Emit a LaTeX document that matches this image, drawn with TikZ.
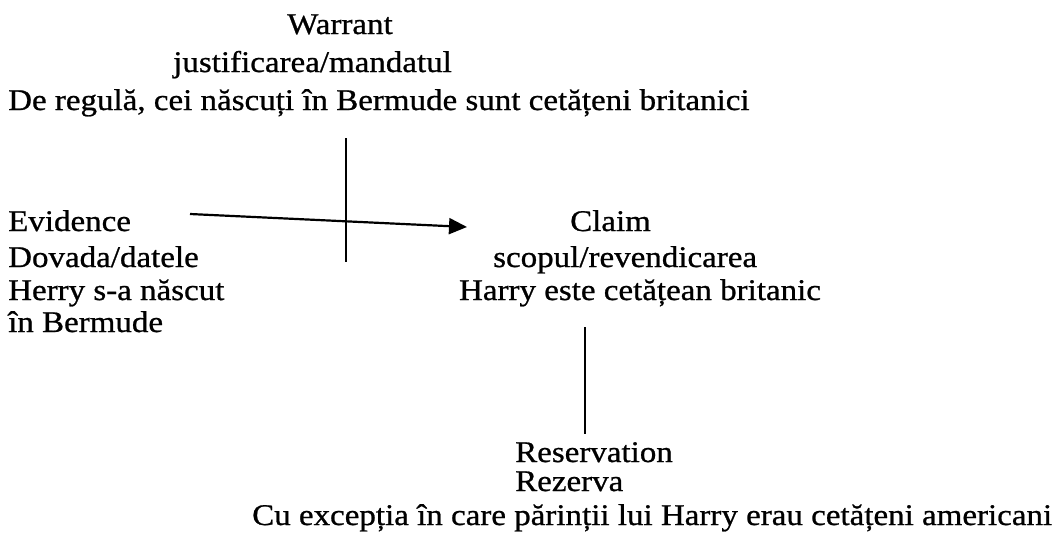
\documentclass[tikz,border=0pt]{standalone}
\usepackage{fontspec}
\setmainfont{Liberation Serif}
\newfontfamily\reff[FakeStretch=1.1,FakeBold=0.8]{Liberation Serif}
\usetikzlibrary{arrows.meta}
\begin{document}
\begin{tikzpicture}[x=1pt,y=-1pt,
  txt/.style={inner sep=0pt, font=\reff\fontsize{30}{34}\selectfont},
  conn/.style={line width=2.2pt, black}]
\useasboundingbox (0,0) rectangle (1062,549);
% Warrant block
\node[txt, anchor=base] (w1) at (340,34) {Warrant};
\node[txt, anchor=base east] (w2) at (452,72) {justificarea/mandatul};
\node[txt, anchor=base west] (w3) at (8,110) {De regulă, cei născuți în Bermude sunt cetățeni britanici};
% Evidence block
\node[txt, anchor=base west] (e1) at (8,231) {Evidence};
\node[txt, anchor=base west] (e2) at (8,267) {Dovada/datele};
\node[txt, anchor=base west] (e3) at (8,300) {Herry s-a născut};
\node[txt, anchor=base west] (e4) at (8,332) {în Bermude};
% Claim block
\node[txt, anchor=base west] (c1) at (570,231) {Claim};
\node[txt, anchor=base west] (c2) at (493,267) {scopul/revendicarea};
\node[txt, anchor=base] (c3) at (640,300) {Harry este cetățean britanic};
% Reservation block
\node[txt, anchor=base west] (r1) at (515,462) {Reservation};
\node[txt, anchor=base west] (r2) at (515,491) {Rezerva};
\node[txt, anchor=base west] (r3) at (252,525) {Cu excepția în care părinții lui Harry erau cetățeni americani};
% connectors
\coordinate (wtop) at (346,138);
\coordinate (wbot) at (346,262);
\coordinate (astart) at (190,214);
\coordinate (aend) at (467,227);
\coordinate (rtop) at (585,327);
\coordinate (rbot) at (585,434);
\draw[conn] (wtop) -- (wbot);
\draw[conn, -{Triangle[length=18pt,width=16pt]}] (astart) -- (aend);
\draw[conn] (rtop) -- (rbot);
\end{tikzpicture}
\end{document}
